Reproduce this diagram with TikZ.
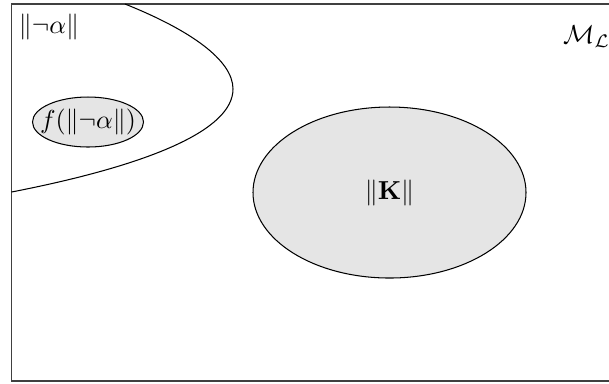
\documentclass[tikz,border=0pt]{standalone}
\usepackage{amsmath,amssymb}

% one unit of the grid below
\newcommand{\pu}{0.0135cm}

\tikzset{
  region/.style={draw, fill=black!10},
}

\begin{document}
\begin{tikzpicture}[x=\pu, y=-\pu, every node/.style={font=\normalsize}]
  \useasboundingbox (0,0) rectangle (609,383);

  % the space of all models
  \draw[black!75, line width=0.6pt] (11.5,4) rectangle (660,381);
  \node[anchor=west] (ML) at (554,37) {$\mathcal{M}_{\mathcal{L}}$};

  % models of the negation
  \draw (125,4) .. controls (190,30) and (233,60) .. (233,89)
                .. controls (233,130) and (150,165) .. (11.5,192);
  \node (notA) at (49,27) {$\|\neg\alpha\|$};

  % selected models and the knowledge base
  \coordinate (fc) at (88,122);
  \coordinate (kc) at (389.5,192.5);
  \draw[region] (fc) ellipse [x radius=55.5, y radius=25];
  \draw[region] (kc) ellipse [x radius=136.5, y radius=85.5];
  \node (fnotA) at (fc) {$f(\|\neg\alpha\|)$};
  \node (K) at (kc) {$\|\mathbf{K}\|$};
\end{tikzpicture}
\end{document}
